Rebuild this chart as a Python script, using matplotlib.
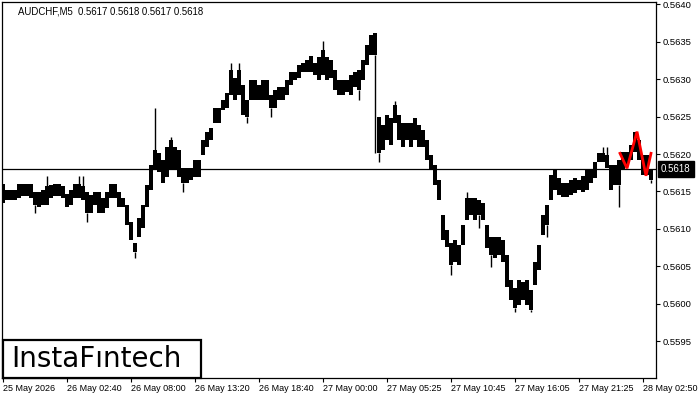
import matplotlib
matplotlib.use("Agg")
import matplotlib.pyplot as plt
import matplotlib.transforms as mtransforms
from matplotlib.patches import Rectangle

# ---------------- data ----------------
symbol_info = "AUDCHF,M5  0.5617 0.5618 0.5617 0.5618"

# each block = 4 five-minute bars (block i starts at bar 4*i)
body_hi = [
    0.56160, 0.56152, 0.56152, 0.56152, 0.56160, 0.56160, 0.56160, 0.56160, 0.56149, 0.56149,
    0.56152, 0.56157, 0.56159, 0.56160, 0.56160, 0.56157, 0.56147, 0.56152, 0.56160, 0.56160,
    0.56157, 0.56149, 0.56145, 0.56149, 0.56149, 0.56141, 0.56149, 0.56160, 0.56160, 0.56149,
    0.56141, 0.56132, 0.56109, 0.56081, 0.56115, 0.56132, 0.56159, 0.56185, 0.56205, 0.56201,
    0.56192, 0.56209, 0.56219, 0.56209, 0.56205, 0.56181, 0.56181, 0.56181, 0.56192, 0.56192,
    0.56219, 0.56230, 0.56235, 0.56262, 0.56262, 0.56272, 0.56282, 0.56312, 0.56302, 0.56312,
    0.56292, 0.56272, 0.56299, 0.56299, 0.56292, 0.56299, 0.56299, 0.56279, 0.56286, 0.56290,
    0.56290, 0.56299, 0.56310, 0.56310, 0.56319, 0.56322, 0.56326, 0.56331, 0.56322, 0.56330,
    0.56339, 0.56330, 0.56326, 0.56312, 0.56299, 0.56299, 0.56299, 0.56306, 0.56310, 0.56312,
    0.56326, 0.56346, 0.56359, 0.56362, 0.56250, 0.56239, 0.56252, 0.56248, 0.56266, 0.56252,
    0.56242, 0.56242, 0.56242, 0.56248, 0.56239, 0.56232, 0.56219, 0.56199, 0.56185, 0.56165,
    0.56119, 0.56099, 0.56081, 0.56085, 0.56078, 0.56105, 0.56141, 0.56141, 0.56141, 0.56139,
    0.56135, 0.56105, 0.56089, 0.56089, 0.56089, 0.56085, 0.56065, 0.56032, 0.56021, 0.56032,
    0.56029, 0.56032, 0.56018, 0.56056, 0.56078, 0.56119, 0.56132, 0.56172, 0.56179, 0.56168,
    0.56161, 0.56161, 0.56165, 0.56168, 0.56165, 0.56171, 0.56179, 0.56179, 0.56189, 0.56201,
    0.56201, 0.56199, 0.56185, 0.56185, 0.56192, 0.56203, 0.56203, 0.56212, 0.56230, 0.56219,
    0.56199, 0.56199, 0.56179,
]
body_lo = [
    0.56135, 0.56139, 0.56139, 0.56139, 0.56141, 0.56144, 0.56144, 0.56141, 0.56132, 0.56129,
    0.56132, 0.56132, 0.56141, 0.56144, 0.56144, 0.56141, 0.56129, 0.56132, 0.56141, 0.56141,
    0.56139, 0.56121, 0.56121, 0.56132, 0.56121, 0.56121, 0.56128, 0.56141, 0.56141, 0.56129,
    0.56129, 0.56105, 0.56085, 0.56069, 0.56089, 0.56101, 0.56129, 0.56152, 0.56179, 0.56176,
    0.56161, 0.56169, 0.56179, 0.56179, 0.56169, 0.56161, 0.56161, 0.56165, 0.56169, 0.56169,
    0.56199, 0.56209, 0.56219, 0.56242, 0.56242, 0.56259, 0.56262, 0.56279, 0.56272, 0.56279,
    0.56252, 0.56250, 0.56272, 0.56272, 0.56272, 0.56272, 0.56272, 0.56262, 0.56262, 0.56272,
    0.56272, 0.56279, 0.56292, 0.56299, 0.56302, 0.56310, 0.56310, 0.56310, 0.56306, 0.56299,
    0.56306, 0.56299, 0.56302, 0.56286, 0.56279, 0.56279, 0.56283, 0.56279, 0.56290, 0.56286,
    0.56299, 0.56319, 0.56332, 0.56332, 0.56201, 0.56205, 0.56219, 0.56212, 0.56242, 0.56219,
    0.56209, 0.56219, 0.56209, 0.56219, 0.56209, 0.56209, 0.56192, 0.56179, 0.56159, 0.56139,
    0.56085, 0.56076, 0.56052, 0.56056, 0.56052, 0.56078, 0.56112, 0.56119, 0.56112, 0.56119,
    0.56112, 0.56074, 0.56065, 0.56061, 0.56065, 0.56056, 0.56022, 0.56005, 0.55994, 0.55998,
    0.56005, 0.55998, 0.55992, 0.56025, 0.56045, 0.56092, 0.56105, 0.56139, 0.56152, 0.56145,
    0.56143, 0.56143, 0.56145, 0.56148, 0.56152, 0.56149, 0.56152, 0.56161, 0.56168, 0.56189,
    0.56189, 0.56181, 0.56152, 0.56159, 0.56159, 0.56179, 0.56185, 0.56192, 0.56203, 0.56192,
    0.56172, 0.56172, 0.56165,
]

# isolated wicks: block index and extreme price
wick_idx = [8, 11, 19, 20, 21, 33, 38, 42, 45, 57, 59, 61, 67, 80, 89, 93, 94, 98,
            112, 116, 119, 122, 128, 132, 136, 150, 151, 154, 162]
wick_end = [0.56121, 0.56171, 0.56171, 0.56171, 0.56109, 0.56061, 0.56262, 0.56223,
            0.56149, 0.56322, 0.56322, 0.56242, 0.56250, 0.56351, 0.56272, 0.56201,
            0.56189, 0.56271, 0.56038, 0.56149, 0.56101, 0.56049, 0.55989, 0.55989,
            0.56089, 0.56209, 0.56209, 0.56129, 0.56161]

# red pattern (5-minute bar index, price)
pattern_bar = [617, 624, 634, 643, 648]
pattern_price = [0.56201, 0.56181, 0.56230, 0.56171, 0.56201]

time_tick_bars = [0, 64, 128, 192, 256, 320, 384, 448, 512, 576, 640]
time_labels = ["25 May 2026", "26 May 02:40", "26 May 08:00", "26 May 13:20",
               "26 May 18:40", "27 May 00:00", "27 May 05:25", "27 May 10:45",
               "27 May 16:05", "27 May 21:25", "28 May 02:50"]
price_ticks = [0.5595, 0.5600, 0.5605, 0.5610, 0.5615, 0.5620, 0.5625, 0.5630, 0.5635, 0.5640]
current_price = 0.5618
logo_text = "InstaF\u0131ntech"

# ---------------- drawing ----------------
W, H = 700, 400
fig = plt.figure(figsize=(7, 4), dpi=100)
fig.patch.set_facecolor("white")
ax = fig.add_axes([2 / W, 22 / H, 654 / W, 376 / H])
ax.set_facecolor("white")

font = "Liberation Sans"

ax.set_xlim(-1, 653)
ax.set_ylim(0.559007, 0.564033)

xs = [4 * i for i in range(len(body_hi))]
heights = [h - l for h, l in zip(body_hi, body_lo)]
ax.bar(xs, heights, bottom=body_lo, width=4, color="black", linewidth=0, zorder=3)

for i, w in zip(wick_idx, wick_end):
    x = 4 * i
    if w > body_hi[i]:
        ax.vlines(x, body_hi[i], w, color="black", lw=1.0, zorder=3)
    else:
        ax.vlines(x, w, body_lo[i], color="black", lw=1.0, zorder=3)

ax.axhline(current_price, color="black", lw=0.9, zorder=2)

ax.plot(pattern_bar, pattern_price, color="#ff0000", lw=2.0, zorder=4,
        solid_joinstyle="miter")

# axes styling
for s in ax.spines.values():
    s.set_color("black")
    s.set_linewidth(0.9)

ax.yaxis.tick_right()
ax.set_yticks(price_ticks)
ax.set_yticklabels([f"{p:.4f}" for p in price_ticks], fontsize=6.8, family=font)
ax.tick_params(axis="y", direction="out", length=3, width=0.8, pad=2, colors="black")

ax.set_xticks(time_tick_bars)
ax.set_xticklabels(time_labels, fontsize=6.5, family=font)
for lab in ax.get_xticklabels():
    lab.set_ha("left")
ax.tick_params(axis="x", direction="out", length=3, width=0.8, pad=1.5, colors="black")

# header text
ax.text(16 / 654, 1 - 9 / 376, symbol_info, transform=ax.transAxes,
        fontsize=6.9, family=font, ha="left", va="center", color="black")

# current price label
trans = mtransforms.blended_transform_factory(ax.transAxes, ax.transData)
ax.text(1.0 + 5 / 654, current_price, f"{current_price:.4f}", transform=trans,
        fontsize=7, family=font, ha="left", va="center", color="white", zorder=6,
        clip_on=False,
        bbox=dict(boxstyle="square,pad=0.3", fc="black", ec="black"))

# logo box
fig.patches.append(Rectangle((3 / W, 22 / H), 198 / W, 38 / H, transform=fig.transFigure,
                             facecolor="white", edgecolor="black", lw=1.6, zorder=10))
fig.text(11 / W, (400 - 359) / H, logo_text, fontsize=20, family="DejaVu Sans",
         ha="left", va="center", color="black", zorder=11)

fig.savefig("out.png", dpi=100)
